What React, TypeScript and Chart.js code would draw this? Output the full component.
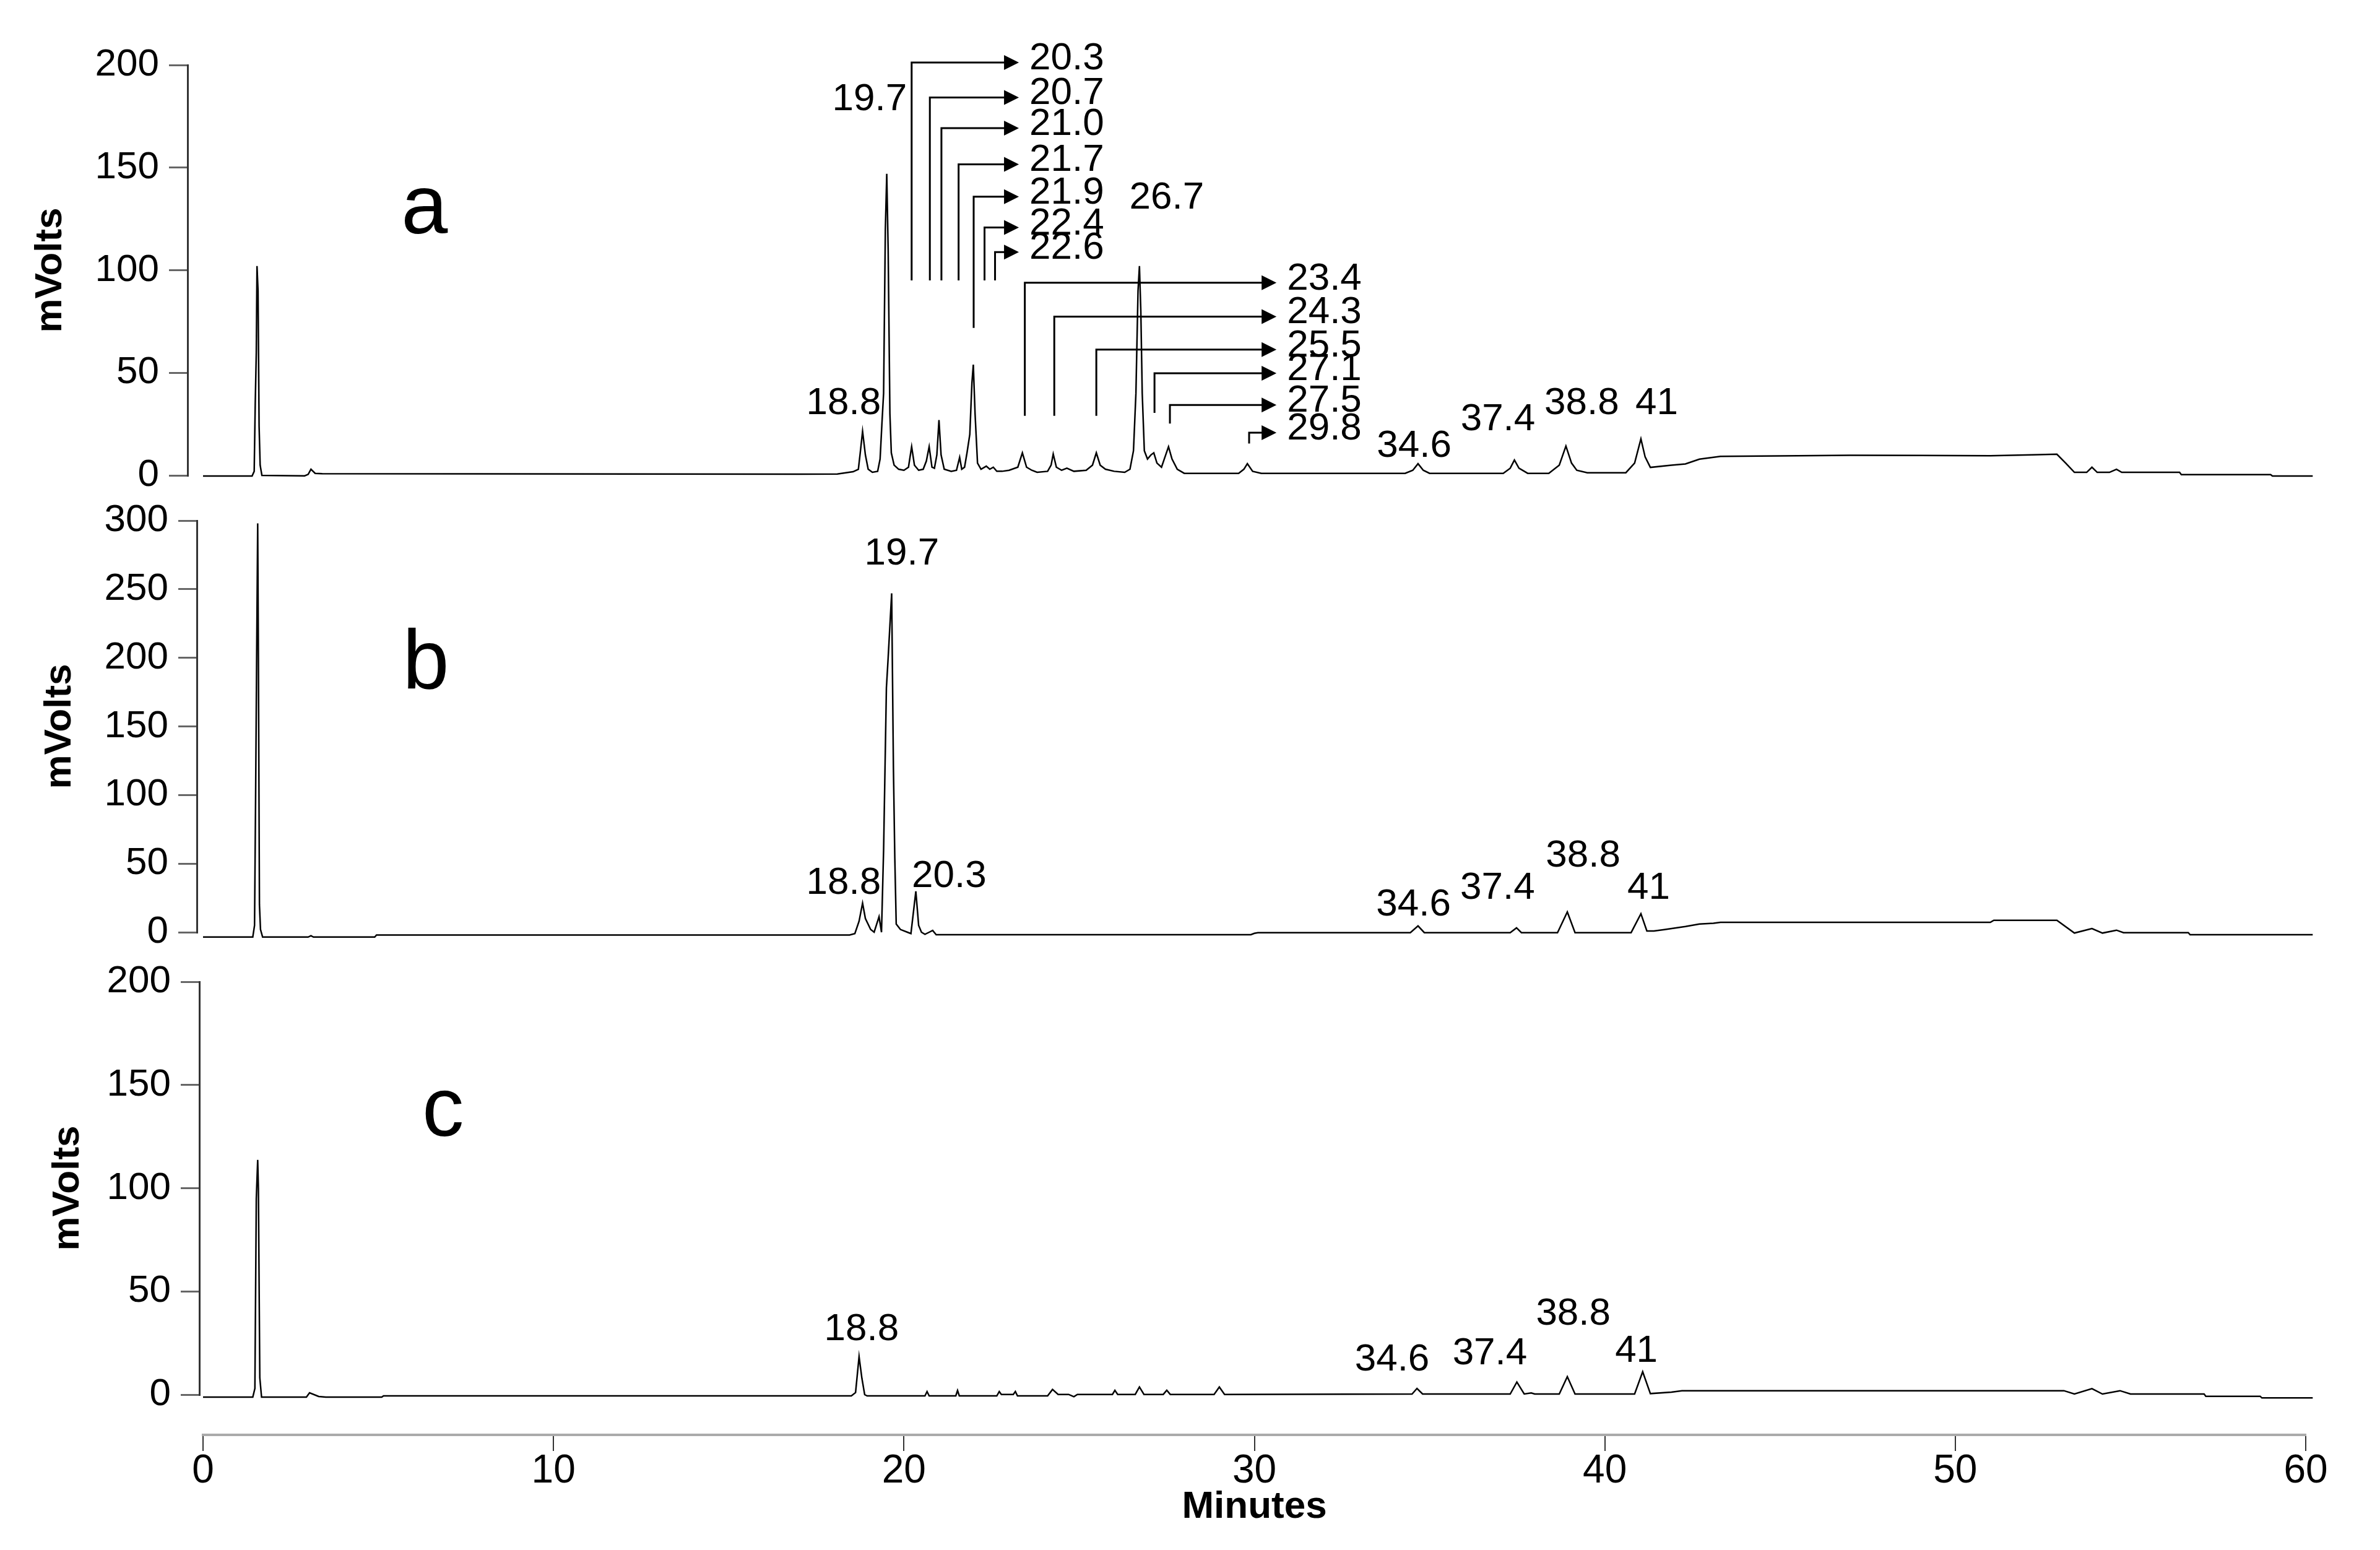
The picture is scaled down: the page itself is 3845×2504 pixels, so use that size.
import React, { useEffect, useRef } from "react";
import { Chart, registerables } from "chart.js";
Chart.register(...registerables);

type Pt = [number, number];
interface Label { text: string; t: number; v: number }
interface Arrow { text: string; t: number; from: number; row: number; tip: number }

// ---------- data ----------
const X_MIN = 0;
const X_MAX = 60;
const X_STEP = 10;
const Y_STEP = 50;
const Y_MAX_A = 200;
const Y_MAX_B = 300;
const Y_MAX_C = 200;

// trace a : [minutes, mVolts]
const traceA: Pt[] = [
  [0, -0.3], [1.4, -0.3], [1.46, 2], [1.49, 35], [1.52, 60], [1.54, 102], [1.57, 90], [1.6, 24], [1.63, 5], [1.68, 0],
  [2.9, -0.2], [3.0, 0.5], [3.08, 3], [3.2, 1], [3.4, 0.8], [17.0, 0.6], [18.1, 0.7], [18.55, 1.8], [18.7, 3], [18.76, 12],
  [18.82, 21.5], [18.9, 10], [18.98, 3], [19.1, 1.5], [19.25, 2], [19.32, 8], [19.37, 24.5], [19.42, 40], [19.47, 120], [19.51, 147],
  [19.55, 110], [19.6, 30], [19.64, 11], [19.72, 5], [19.85, 3], [20.0, 2.5], [20.13, 4], [20.22, 14], [20.3, 5], [20.42, 2.5],
  [20.55, 3], [20.64, 7], [20.72, 14], [20.8, 4], [20.87, 3.5], [20.94, 10], [21.0, 27], [21.06, 10], [21.15, 3], [21.35, 2],
  [21.5, 2.5], [21.59, 8.8], [21.65, 3], [21.73, 4], [21.8, 11], [21.88, 20], [21.94, 45], [21.98, 54], [22.03, 30], [22.1, 6],
  [22.2, 3], [22.35, 4.5], [22.45, 3], [22.55, 4], [22.65, 2], [22.8, 2], [23.0, 2.5], [23.25, 4], [23.38, 11], [23.5, 4],
  [23.65, 2.5], [23.8, 1.5], [24.1, 2], [24.2, 5], [24.26, 10.4], [24.35, 4], [24.5, 2.5], [24.65, 3.5], [24.85, 2], [25.2, 2.5],
  [25.38, 5], [25.49, 11], [25.6, 5], [25.75, 3], [26.0, 2], [26.3, 1.5], [26.45, 3], [26.55, 12], [26.62, 40], [26.68, 90],
  [26.72, 102], [26.76, 80], [26.8, 40], [26.86, 12], [26.95, 8], [27.05, 10], [27.13, 11], [27.22, 6], [27.35, 4], [27.45, 9],
  [27.55, 14], [27.65, 8], [27.8, 3], [28.0, 1], [29.55, 1], [29.7, 3], [29.8, 5.7], [29.95, 2], [30.2, 1], [34.3, 1],
  [34.52, 2.5], [34.67, 5.7], [34.82, 2.5], [35.0, 1], [37.1, 1], [37.3, 3.5], [37.42, 7.5], [37.55, 3.5], [37.8, 1], [38.4, 1],
  [38.7, 5], [38.89, 14.3], [39.05, 6], [39.2, 2.5], [39.5, 1.3], [40.6, 1.3], [40.85, 6], [41.03, 17.8], [41.15, 9], [41.3, 3.9],
  [41.9, 5], [42.3, 5.6], [42.7, 7.9], [43.3, 9.3], [45.0, 9.5], [47.0, 9.8], [49.0, 9.7], [51.0, 9.6], [52.2, 10], [52.9, 10.3],
  [53.15, 6], [53.4, 1.5], [53.75, 1.5], [53.9, 4], [54.05, 1.5], [54.4, 1.5], [54.6, 3], [54.75, 1.5], [56.4, 1.5], [56.45, 0.4],
  [59.0, 0.4], [59.05, -0.3], [60.2, -0.3],
];

// trace b
const traceB: Pt[] = [
  [0, -3.5], [1.42, -3.5], [1.47, 5], [1.5, 97], [1.53, 200], [1.56, 298], [1.58, 200], [1.61, 20], [1.64, 2], [1.7, -3.5],
  [3.0, -3.5], [3.08, -2.5], [3.15, -3.5], [4.9, -3.5], [4.95, -2], [18.45, -2], [18.6, -1], [18.72, 8], [18.82, 21.2], [18.9, 10],
  [19.05, 2], [19.15, 0], [19.29, 11.3], [19.36, 0], [19.42, 60], [19.5, 178], [19.55, 200], [19.65, 247], [19.7, 120], [19.74, 54],
  [19.78, 6], [19.9, 2], [20.1, 0], [20.2, -1], [20.34, 29.8], [20.42, 5], [20.5, 0], [20.6, -1.5], [20.72, 0], [20.82, 1.3],
  [20.92, -1.8], [29.9, -1.8], [30.0, -0.8], [30.1, -0.3], [34.45, -0.3], [34.67, 4.6], [34.85, -0.3], [37.3, -0.3], [37.48, 3.2], [37.62, -0.3],
  [38.65, -0.3], [38.93, 14.8], [39.15, -0.3], [40.75, -0.3], [41.03, 13.5], [41.2, 0.9], [41.4, 0.9], [41.7, 1.9], [42.3, 4.2], [42.7, 6.0],
  [43.1, 6.5], [43.3, 7.2], [51.0, 7.2], [51.1, 8.7], [52.9, 8.7], [53.4, -0.6], [53.9, 2.7], [54.2, -0.6], [54.6, 1.5], [54.8, -0.3],
  [56.65, -0.3], [56.7, -1.8], [60.2, -1.8],
];

// trace c
const traceC: Pt[] = [
  [0, -1.2], [1.42, -1.2], [1.48, 3], [1.52, 95], [1.56, 113.7], [1.58, 100], [1.62, 8.2], [1.67, -1.2], [2.95, -1.2], [3.04, 0.9],
  [3.3, -0.9], [3.5, -1.2], [5.1, -1.2], [5.15, -0.6], [18.5, -0.6], [18.62, 1], [18.72, 18.4], [18.8, 8], [18.88, 0], [18.95, -0.6],
  [20.6, -0.6], [20.66, 1.5], [20.72, -0.6], [21.48, -0.6], [21.53, 2], [21.58, -0.6], [22.65, -0.6], [22.72, 1.5], [22.78, 0.1], [23.12, 0.1],
  [23.18, 1.5], [23.24, -0.6], [24.1, -0.6], [24.24, 2.5], [24.4, 0.1], [24.7, 0.1], [24.85, -1], [24.95, 0.1], [25.95, 0.1], [26.02, 2.1],
  [26.1, 0.1], [26.6, 0.1], [26.72, 3.7], [26.85, 0.1], [27.4, 0.1], [27.5, 2.1], [27.6, 0.1], [28.85, 0.1], [29.0, 3.7], [29.15, 0.1],
  [34.5, 0.3], [34.64, 3], [34.8, 0.3], [37.3, 0.3], [37.49, 6.1], [37.7, 0.3], [37.9, 0.8], [38.0, 0.3], [38.7, 0.3], [38.93, 8.7],
  [39.15, 0.3], [40.85, 0.3], [41.08, 11.1], [41.3, 0.5], [41.9, 1.2], [42.2, 1.9], [53.1, 1.9], [53.4, 0.3], [53.9, 2.9], [54.2, 0.3],
  [54.7, 1.9], [55.0, 0.3], [57.1, 0.3], [57.15, -0.8], [58.7, -0.8], [58.75, -1.6], [60.2, -1.6],
];

const labelsA: Label[] = [
  { text: "18.8", t: 18.28, v: 36.5 },
  { text: "19.7", t: 19.02, v: 184.6 },
  { text: "26.7", t: 27.5, v: 136.8 },
  { text: "34.6", t: 34.56, v: 15.7 },
  { text: "37.4", t: 36.95, v: 28.7 },
  { text: "38.8", t: 39.34, v: 36.6 },
  { text: "41", t: 41.48, v: 36.6 },
];

const arrowsA: Arrow[] = [
  { text: "20.3", t: 20.22, from: 95, row: 201.2, tip: 23.28 },
  { text: "20.7", t: 20.74, from: 95, row: 184.2, tip: 23.28 },
  { text: "21.0", t: 21.07, from: 95, row: 169.2, tip: 23.28 },
  { text: "21.7", t: 21.56, from: 95, row: 151.6, tip: 23.28 },
  { text: "21.9", t: 21.99, from: 71.9, row: 135.8, tip: 23.28 },
  { text: "22.4", t: 22.3, from: 95, row: 120.8, tip: 23.28 },
  { text: "22.6", t: 22.6, from: 95, row: 108.8, tip: 23.28 },
  { text: "23.4", t: 23.45, from: 29, row: 93.9, tip: 30.63 },
  { text: "24.3", t: 24.29, from: 29, row: 77.4, tip: 30.63 },
  { text: "25.5", t: 25.49, from: 29, row: 61.3, tip: 30.63 },
  { text: "27.1", t: 27.15, from: 30.5, row: 49.8, tip: 30.63 },
  { text: "27.5", t: 27.59, from: 25.3, row: 34.3, tip: 30.63 },
  { text: "29.8", t: 29.85, from: 15.5, row: 20.8, tip: 30.63 },
];

const labelsB: Label[] = [
  { text: "19.7", t: 19.94, v: 278 },
  { text: "18.8", t: 18.28, v: 38 },
  { text: "20.3", t: 21.29, v: 43 },
  { text: "34.6", t: 34.54, v: 21.9 },
  { text: "37.4", t: 36.94, v: 34.3 },
  { text: "38.8", t: 39.38, v: 57.7 },
  { text: "41", t: 41.25, v: 34.3 },
];

const labelsC: Label[] = [
  { text: "18.8", t: 18.79, v: 33.1 },
  { text: "34.6", t: 33.93, v: 18.4 },
  { text: "37.4", t: 36.72, v: 21.4 },
  { text: "38.8", t: 39.1, v: 40.5 },
  { text: "41", t: 40.9, v: 22.5 },
];

const letterA: Label = { text: "a", t: 6.32, v: 118 };
const letterB: Label = { text: "b", t: 6.36, v: 177.7 };
const letterC: Label = { text: "c", t: 6.85, v: 125.4 };

const Y_TITLE = "mVolts";
const X_TITLE = "Minutes";

// ---------- layout / style ----------
const W = 3845;
const H = 2504;
const PLOT_LEFT = 328;
const PLOT_RIGHT = 3725;
const FONT = '"Liberation Sans", Arial, Helvetica, sans-serif';

interface PanelCfg {
  trace: Pt[];
  yMax: number;
  labels: Label[];
  arrows: Arrow[];
  letter: Label;
  top: number;
  bottom: number;
  axisX: number;
  titlePad: number;
  showX: boolean;
}

function annotationPlugin(cfg: PanelCfg) {
  return {
    id: "annot",
    afterDatasetsDraw(chart: any) {
      const ctx: CanvasRenderingContext2D = chart.ctx;
      const xs = chart.scales.x;
      const ys = chart.scales.y;
      ctx.save();
      ctx.fillStyle = "#000";
      ctx.strokeStyle = "#000";
      ctx.textBaseline = "alphabetic";
      // panel letter
      ctx.font = `135px ${FONT}`;
      ctx.textAlign = "center";
      ctx.fillText(cfg.letter.text, xs.getPixelForValue(cfg.letter.t), ys.getPixelForValue(cfg.letter.v));
      // peak labels
      ctx.font = `62px ${FONT}`;
      for (const l of cfg.labels) {
        ctx.fillText(l.text, xs.getPixelForValue(l.t), ys.getPixelForValue(l.v) + 22);
      }
      // arrows
      ctx.lineWidth = 3;
      ctx.lineJoin = "miter";
      ctx.textAlign = "left";
      for (const a of cfg.arrows) {
        const x0 = xs.getPixelForValue(a.t);
        const yb = ys.getPixelForValue(a.from);
        const yr = ys.getPixelForValue(a.row);
        const xt = xs.getPixelForValue(a.tip);
        ctx.beginPath();
        ctx.moveTo(x0, yb);
        ctx.lineTo(x0, yr);
        ctx.lineTo(xt - 20, yr);
        ctx.stroke();
        ctx.beginPath();
        ctx.moveTo(xt, yr);
        ctx.lineTo(xt - 24, yr - 12);
        ctx.lineTo(xt - 24, yr + 12);
        ctx.closePath();
        ctx.fill();
        ctx.fillText(a.text, xt + 17, yr + 11);
      }
      ctx.restore();
    },
  };
}

function buildChart(canvas: HTMLCanvasElement, cfg: PanelCfg) {
  const scales: any = {
    x: cfg.showX
      ? {
          type: "linear",
          min: X_MIN,
          max: X_MAX,
          position: "bottom",
          weight: 0,
          display: true,
          grid: { display: false },
          border: { display: false },
          ticks: { display: false },
          afterFit: (s: any) => {
            s.height = 65;
          },
        }
      : { type: "linear", min: X_MIN, max: X_MAX, display: false },
    y: {
      type: "linear",
      position: "left",
      min: 0,
      max: cfg.yMax,
      weight: 1,
      ticks: {
        stepSize: Y_STEP,
        color: "#000",
        padding: 16,
        font: { family: FONT, size: 62 },
      },
      grid: {
        drawOnChartArea: false,
        drawTicks: true,
        tickLength: 30,
        color: "#666",
        lineWidth: 3,
      },
      border: { display: true, color: "#333", width: 3 },
      title: {
        display: true,
        text: Y_TITLE,
        color: "#000",
        font: { family: FONT, size: 62, weight: "bold" },
        padding: { top: cfg.titlePad, bottom: 0 },
      },
      afterFit: (s: any) => {
        s.width = cfg.axisX;
      },
    },
    ySpacer: {
      type: "linear",
      position: "left",
      weight: 0,
      display: true,
      grid: { display: false },
      border: { display: false },
      ticks: { display: false },
      afterFit: (s: any) => {
        s.width = PLOT_LEFT - cfg.axisX;
      },
    },
  };
  if (cfg.showX) {
    scales.xAxis = {
      type: "linear",
      position: "bottom",
      min: X_MIN,
      max: X_MAX,
      weight: 1,
      ticks: {
        stepSize: X_STEP,
        color: "#000",
        padding: 1,
        maxRotation: 0,
        autoSkip: false,
        font: { family: FONT, size: 64, lineHeight: 1.0 },
      },
      grid: {
        drawOnChartArea: false,
        drawTicks: true,
        tickLength: 26,
        color: "#333",
        lineWidth: 2,
      },
      border: { display: true, color: "#aaa", width: 4 },
      title: {
        display: true,
        text: X_TITLE,
        color: "#000",
        font: { family: FONT, size: 62, weight: "bold" },
        padding: { top: 0, bottom: 32 },
      },
      afterFit: (s: any) => {
        s.height = H - cfg.bottom - 65;
      },
    };
  }
  return new Chart(canvas, {
    type: "line",
    data: {
      datasets: [
        {
          data: cfg.trace.map(([x, y]) => ({ x, y })),
          borderColor: "#000",
          borderWidth: 2.5,
          pointRadius: 0,
          tension: 0,
          fill: false,
          clip: false as any,
          xAxisID: "x",
          yAxisID: "y",
        },
      ],
    },
    options: {
      animation: false,
      responsive: false,
      maintainAspectRatio: false,
      events: [],
      parsing: false as any,
      layout: {
        padding: {
          left: 0,
          right: W - PLOT_RIGHT,
          top: cfg.top,
          bottom: cfg.showX ? 0 : H - cfg.bottom,
        },
      },
      plugins: {
        legend: { display: false },
        tooltip: { enabled: false },
        title: { display: false },
      },
      scales,
    } as any,
    plugins: [annotationPlugin(cfg) as any],
  });
}

const panels: PanelCfg[] = [
  { trace: traceA, yMax: Y_MAX_A, labels: labelsA, arrows: arrowsA, letter: letterA, top: 105, bottom: 768, axisX: 303, titlePad: 45, showX: false },
  { trace: traceB, yMax: Y_MAX_B, labels: labelsB, arrows: [], letter: letterB, top: 841, bottom: 1506, axisX: 318, titlePad: 60, showX: false },
  { trace: traceC, yMax: Y_MAX_C, labels: labelsC, arrows: [], letter: letterC, top: 1586, bottom: 2253, axisX: 322, titlePad: 73, showX: true },
];

export default function App() {
  const refA = useRef<HTMLCanvasElement>(null);
  const refB = useRef<HTMLCanvasElement>(null);
  const refC = useRef<HTMLCanvasElement>(null);

  useEffect(() => {
    const refs = [refA, refB, refC];
    const charts = refs.map((r, i) => buildChart(r.current as HTMLCanvasElement, panels[i]));
    return () => charts.forEach((c) => c.destroy());
  }, []);

  const canvasStyle: React.CSSProperties = {
    position: "absolute",
    left: 0,
    top: 0,
    width: W,
    height: H,
  };

  return (
    <div style={{ position: "absolute", left: 0, top: 0, width: W, height: H, background: "#fff", overflow: "hidden" }}>
      <canvas ref={refA} width={W} height={H} style={canvasStyle} />
      <canvas ref={refB} width={W} height={H} style={canvasStyle} />
      <canvas ref={refC} width={W} height={H} style={canvasStyle} />
    </div>
  );
}
